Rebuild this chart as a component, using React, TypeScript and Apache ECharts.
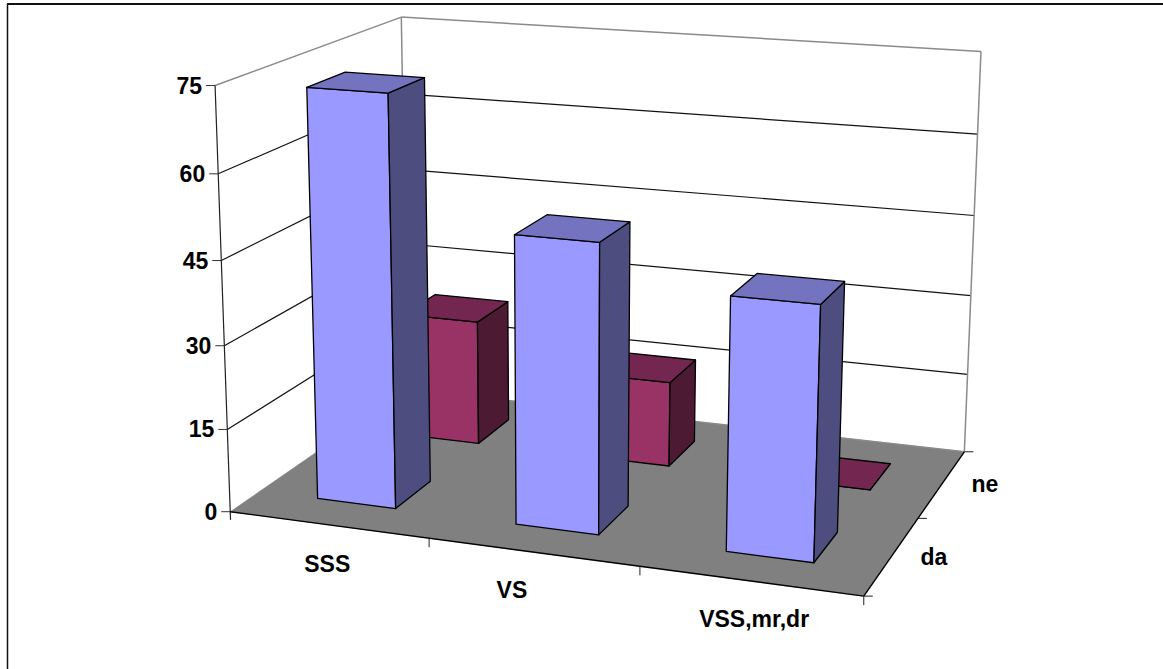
import React, { useEffect, useRef } from "react";
import * as echarts from "echarts";

// Chart data
const categories = ["SSS", "VS", "VSS,mr,dr"];
const depthLabels = ["da", "ne"];
const daValues = [73.4, 51, 44];
const neValues = [23.6, 15.9, 0];
const yTicks = [0, 15, 30, 45, 60, 75];

// Excel-like colours for each depth row: front, side, top
const palette = [
  { front: "#9999FF", side: "#4D4D80", top: "#7373BF" },
  { front: "#993366", side: "#4D1A33", top: "#732650" },
];

const FONT = "Liberation Sans";
const FONT_SIZE = 23;
const BAR_SHARE = 0.4;

// Screen positions of the box corners, keyed by unit-cube coordinates [x, y, z]
const boxCorners: [number, number, number, number, number][] = [
  [0, 0, 0, 231.7, 511.7],
  [1, 0, 0, 863.3, 596.7],
  [1, 0, 1, 965, 451],
  [0, 0, 1, 406, 389.5],
  [0, 1, 0, 214, 85],
  [0, 1, 1, 402.5, 17.3],
  [1, 1, 1, 980.7, 51.7],
];

// Least-squares fit of a perspective camera through the box corners
function fitCamera() {
  const rows: number[][] = [];
  const rhs: number[] = [];
  for (const [x, y, z, u0, v0] of boxCorners) {
    const u = u0 / 1000;
    const v = v0 / 1000;
    rows.push([1, x, y, z, 0, 0, 0, 0, -u * x, -u * y, -u * z]);
    rhs.push(u);
    rows.push([0, 0, 0, 0, 1, x, y, z, -v * x, -v * y, -v * z]);
    rhs.push(v);
  }
  const n = 11;
  const m: number[][] = [];
  for (let i = 0; i < n; i++) {
    const r = new Array(n + 1).fill(0);
    for (let j = 0; j < n; j++) {
      for (let k = 0; k < rows.length; k++) r[j] += rows[k][i] * rows[k][j];
    }
    for (let k = 0; k < rows.length; k++) r[n] += rows[k][i] * rhs[k];
    m.push(r);
  }
  for (let i = 0; i < n; i++) {
    let best = i;
    for (let j = i + 1; j < n; j++) if (Math.abs(m[j][i]) > Math.abs(m[best][i])) best = j;
    [m[i], m[best]] = [m[best], m[i]];
    for (let j = 0; j < n; j++) {
      if (j === i) continue;
      const f = m[j][i] / m[i][i];
      for (let k = i; k <= n; k++) m[j][k] -= f * m[i][k];
    }
  }
  return m.map((r, i) => r[n] / r[i]);
}

const cam = fitCamera();

function project(x: number, y: number, z: number): [number, number] {
  const w = 1 + cam[8] * x + cam[9] * y + cam[10] * z;
  return [
    (1000 * (cam[0] + cam[1] * x + cam[2] * y + cam[3] * z)) / w,
    (1000 * (cam[4] + cam[5] * x + cam[6] * y + cam[7] * z)) / w,
  ];
}

// Horizontal fraction of a category slot and vertical fraction of a value, from the hidden axes
function axisFractions(params: any, api: any, cat: number, value: number) {
  const rect = params.coordSys;
  const p = api.coord([cat, value]);
  return {
    x: (p[0] - rect.x) / rect.width,
    y: (rect.y + rect.height - p[1]) / rect.height,
    band: api.size([1, 0])[0] / rect.width,
  };
}

const poly = (points: [number, number][], fill: string, stroke = "#000", lineWidth = 1.3) => ({
  type: "polygon",
  shape: { points },
  style: { fill, stroke, lineWidth, lineJoin: "round" },
});

const seg = (a: [number, number], b: [number, number], stroke: string, lineWidth = 1) => ({
  type: "line",
  shape: { x1: a[0], y1: a[1], x2: b[0], y2: b[1] },
  style: { stroke, lineWidth },
});

const label = (text: string, x: number, y: number, align = "center") => ({
  type: "text",
  style: {
    text,
    x,
    y,
    align,
    verticalAlign: "middle",
    fontFamily: FONT,
    fontSize: FONT_SIZE,
    fontWeight: "bold",
    fill: "#000",
  },
});

// Floor, walls, gridlines, ticks and tick labels of the box
function renderBox(params: any, api: any) {
  const rect = params.coordSys;
  const children: any[] = [];
  const grey = "#8a8a8a";
  children.push(
    poly([project(0, 0, 0), project(1, 0, 0), project(1, 0, 1), project(0, 0, 1)], "#808080", "#808080", 0.5)
  );
  for (const t of yTicks) {
    const fy = (rect.y + rect.height - api.coord([0, t])[1]) / rect.height;
    const edge = t === 0 || t === 75;
    const stroke = edge ? grey : "#111";
    const width = edge ? 1.5 : 1.2;
    children.push(seg(project(0, fy, 1), project(1, fy, 1), stroke, width));
    if (t > 0) children.push(seg(project(0, fy, 0), project(0, fy, 1), stroke, width));
    const p = project(0, fy, 0);
    children.push(seg([p[0] - 9, p[1]], p, "#333"));
    children.push(label(String(t), p[0] - 13, p[1], "right"));
  }
  children.push(seg(project(0, 0, 1), project(0, 1, 1), grey, 1.5));
  children.push(seg(project(1, 0, 1), project(1, 1, 1), grey, 1.5));
  children.push(seg(project(0, -0.02, 0), project(0, 1, 0), "#222", 1.2));
  children.push(seg(project(0, 0, 0), project(1, 0, 0), "#000", 1.4));
  children.push(seg(project(1, 0, 0), project(1, 0, 1), "#000", 1.4));

  // Ticks along the front edge and the right edge of the floor
  categories.forEach((_, i) => {
    const p = project((i + 1) / categories.length, 0, 0);
    children.push(seg(p, [p[0], p[1] + 9], "#222"));
  });
  depthLabels.forEach((_, i) => {
    const p = project(1, 0, i / depthLabels.length);
    children.push(seg(p, [p[0] + 9, p[1]], "#222"));
  });
  const top = project(1, 0, 1);
  children.push(seg(top, [top[0] + 9, top[1]], "#222"));

  // Category and depth labels sit below and beside the floor
  const catOffsets: [number, number][] = [
    [-1, 39],
    [-21, 38],
    [4, 38],
  ];
  categories.forEach((name, i) => {
    const p = project((i + 0.5) / categories.length, 0, 0);
    children.push(label(name, p[0] + catOffsets[i][0], p[1] + catOffsets[i][1]));
  });
  const depthOffsets: [number, number][] = [
    [42, 1],
    [43, 0],
  ];
  depthLabels.forEach((name, i) => {
    const p = project(1, 0, (i + 0.5) / depthLabels.length);
    children.push(label(name, p[0] + depthOffsets[i][0], p[1] + depthOffsets[i][1]));
  });
  return { type: "group", children };
}

// One 3D column: front, right side and top faces
function renderBar(depthIndex: number) {
  return (params: any, api: any) => {
    const f = axisFractions(params, api, api.value(0), api.value(1));
    const half = (BAR_SHARE * f.band) / 2;
    const x0 = f.x - half;
    const x1 = f.x + half;
    const zMid = (depthIndex + 0.5) / depthLabels.length;
    const zHalf = (BAR_SHARE / depthLabels.length) / 2;
    const z0 = zMid - zHalf;
    const z1 = zMid + zHalf;
    const y = f.y;
    const colors = palette[depthIndex];
    return {
      type: "group",
      children: [
        poly([project(x0, 0, z0), project(x1, 0, z0), project(x1, y, z0), project(x0, y, z0)], colors.front),
        poly([project(x1, 0, z0), project(x1, 0, z1), project(x1, y, z1), project(x1, y, z0)], colors.side),
        poly([project(x0, y, z0), project(x1, y, z0), project(x1, y, z1), project(x0, y, z1)], colors.top),
      ],
    };
  };
}

const toPairs = (values: number[]) => values.map((v, i) => [i, v]);

export default function App() {
  const ref = useRef<HTMLDivElement>(null);

  useEffect(() => {
    const chart = echarts.init(ref.current!, undefined, { renderer: "svg" });
    chart.setOption({
      animation: false,
      backgroundColor: "#fff",
      grid: { left: 0, right: 0, top: 0, bottom: 0 },
      xAxis: { type: "category", data: categories, show: false },
      yAxis: { type: "value", min: 0, max: 75, interval: 15, show: false },
      graphic: [
        { type: "line", shape: { x1: 7, y1: 4, x2: 1163, y2: 4 }, style: { stroke: "#111", lineWidth: 2 } },
        { type: "line", shape: { x1: 7.5, y1: 4, x2: 7.5, y2: 669 }, style: { stroke: "#111", lineWidth: 1.5 } },
      ],
      series: [
        {
          name: "box",
          type: "custom",
          coordinateSystem: "cartesian2d",
          clip: false,
          silent: true,
          data: [[0, 0]],
          renderItem: renderBox,
          z: 1,
        },
        {
          name: depthLabels[1],
          type: "custom",
          coordinateSystem: "cartesian2d",
          clip: false,
          data: toPairs(neValues),
          encode: { x: 0, y: 1 },
          renderItem: renderBar(1),
          z: 2,
        },
        {
          name: depthLabels[0],
          type: "custom",
          coordinateSystem: "cartesian2d",
          clip: false,
          data: toPairs(daValues),
          encode: { x: 0, y: 1 },
          renderItem: renderBar(0),
          z: 3,
        },
      ],
    });
    return () => chart.dispose();
  }, []);

  return <div ref={ref} style={{ position: "absolute", left: 0, top: 0, width: 1163, height: 669 }} />;
}
